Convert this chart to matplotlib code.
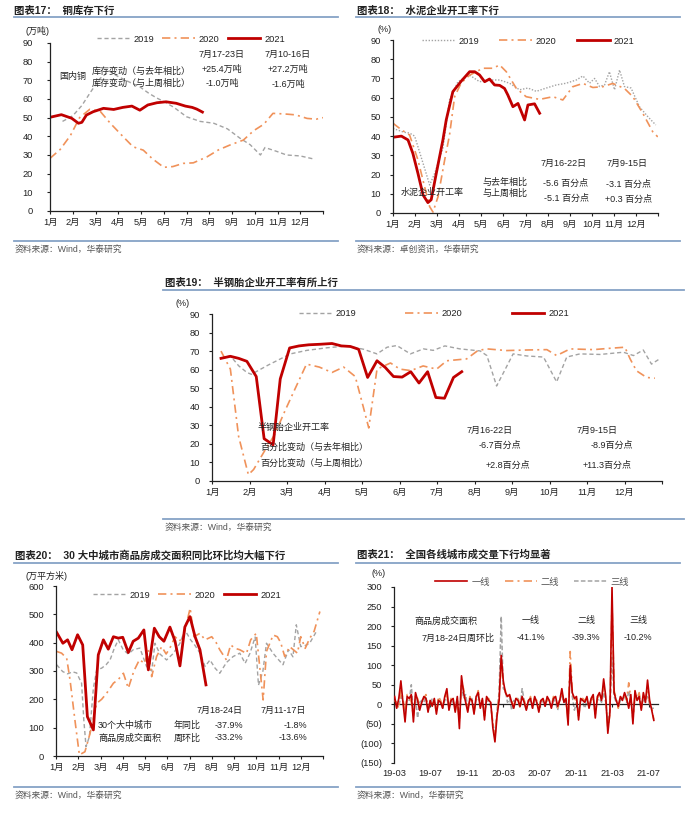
import numpy as np
import pandas as pd
import matplotlib
matplotlib.use("Agg")
import matplotlib.pyplot as plt
from matplotlib.lines import Line2D
import matplotlib.dates as mdates
from matplotlib.ticker import FuncFormatter

plt.rcParams['font.family'] = ['Liberation Sans', 'Noto Sans CJK SC']
plt.rcParams['axes.unicode_minus'] = False

W, H = 692, 814
RED = '#c00000'
ORANGE = '#f0925a'
GREY = '#a3a3a3'
TXT = '#222222'
RULE = '#86a3c6'
MONTHS = [f'{i}月' for i in range(1, 13)]

# ---- 图表17 铜库存 (万吨), x = 月份位置
cu19_m = [0.55, 1.0, 1.4, 1.8, 2.2, 2.6, 3.0, 3.5, 3.95, 4.35, 4.7, 5.1, 5.45, 6.0, 6.6, 7.2,
          7.8, 8.35, 8.8, 9.25, 9.45, 9.95, 10.4, 11.0, 11.65]
cu19_v = [48, 51, 56.5, 64, 71, 75, 72, 69, 66.5, 63, 60.5, 58, 55.5, 50.5, 48, 47,
          44, 39, 35.5, 30, 34, 32, 30, 29.5, 27.7]
cu20_m = [0, 0.45, 0.9, 1.3, 1.75, 2.2, 2.65, 3.2, 3.65, 4.1, 4.5, 5.0, 5.4, 5.85, 6.3, 6.9,
          7.4, 7.9, 8.5, 8.95, 9.4, 9.8, 10.3, 10.8, 11.3, 11.7, 12.0]
cu20_v = [28.2, 33, 40.5, 50, 54.5, 53.5, 47, 40, 34.4, 32.6, 28, 23.4, 23.8, 25.5, 25.8, 29,
          32.7, 35.3, 38, 43, 46.5, 52.3, 52, 51.5, 49.6, 49.2, 50]
cu21_m = [0, 0.5, 0.95, 1.25, 1.4, 1.6, 1.9, 2.35, 2.8, 3.2, 3.6, 3.95, 4.3, 4.7, 5.1, 5.55,
          5.95, 6.25, 6.45, 6.7]
cu21_v = [50.2, 51.6, 49.7, 47, 47.5, 51.4, 53.2, 55, 54.4, 55.5, 56.2, 54, 56.8, 58, 58.5, 57.7,
          56.2, 55.5, 54.6, 53]

# ---- 图表18 水泥企业开工率 (%)
cem19_m = [0, 0.5, 0.75, 0.98, 1.36, 1.66, 1.89, 2.26, 2.56, 2.94, 3.47, 3.92, 4.37, 4.83, 5.28,
           5.73, 6.11, 6.49, 6.94, 7.39, 7.84, 8.3, 8.6, 8.9, 9.13, 9.35, 9.58, 9.8, 10.03,
           10.26, 10.48, 10.78, 11.16, 11.54, 11.9]
cem19_v = [44, 42, 41.6, 40, 25.9, 14.6, 20.7, 33.7, 58.8, 68.3, 71.7, 68.3, 69.2, 69.2, 67.5,
           64.1, 65, 63.3, 65, 66.6, 67.5, 69.2, 71.3, 67.5, 70, 65.8, 66.6, 73.5, 64.1,
           74.4, 65.8, 65, 55.3, 50.1, 45.8]
cem20_m = [0, 0.38, 0.75, 1.13, 1.43, 1.66, 1.81, 2.04, 2.34, 2.56, 2.79, 3.09, 3.47, 4.07, 4.52,
           4.83, 5.13, 5.58, 6.03, 6.64, 7.24, 7.69, 8.14, 8.6, 9.05, 9.5, 9.95, 10.48, 10.86,
           11.31, 11.76, 11.99]
cem20_v = [46.7, 43.3, 40.6, 27.6, 13.7, 3.3, 0.5, 8.5, 27.6, 40.6, 60.5, 67.7, 71.7, 75.3, 75.3,
           77, 73.5, 64.9, 60.5, 59.1, 60.5, 58.8, 65.7, 67.4, 65.3, 65.7, 67.4, 64.8, 60.5,
           51.9, 42.3, 39.6]
cem21_m = [0, 0.38, 0.68, 0.9, 1.13, 1.36, 1.58, 1.73, 1.96, 2.26, 2.41, 2.71, 3.09, 3.47, 3.7,
           3.92, 4.15, 4.37, 4.6, 4.83, 5.05, 5.2, 5.43, 5.66, 5.96, 6.11, 6.41, 6.64]
cem21_v = [39.4, 40, 38, 31, 20.6, 9.4, 5.4, 6.9, 20.6, 38, 48.4, 63.1, 68.6, 73.5, 73.5,
           71.8, 68.3, 69.7, 66.6, 66.4, 64.8, 61.4, 55.3, 57, 48.4, 56.2, 56.8, 51.9]

# ---- 图表19 半钢胎企业开工率 (%)
tire19_m = [0.24, 0.49, 0.71, 0.93, 1.05, 1.5, 2.09, 2.53, 3.07, 3.6, 4.04, 4.4, 4.67, 4.93, 5.29,
            5.64, 5.9, 6.21, 6.61, 7.15, 7.33, 7.59, 8.03, 8.39, 8.84, 9.19, 9.46, 9.81, 10.35,
            10.97, 11.24, 11.5, 11.72, 11.95]
tire19_v = [66, 67.5, 62.1, 58.5, 57.5, 62.5, 68.5, 70.4, 71.8, 72.8, 71, 68.5, 72.1, 73, 68.5,
            71.2, 70.4, 72.8, 71.2, 70.1, 67.6, 51.2, 68.5, 67.4, 66.8, 53.4, 66.8, 68.5, 68.2,
            69.4, 67.6, 70.6, 63, 66]
tire20_m = [0.24, 0.49, 0.71, 0.97, 1.11, 1.39, 1.67, 1.95, 2.17, 2.52, 2.86, 3.2, 3.51, 3.82,
            4.04, 4.18, 4.4, 4.76, 5.01, 5.3, 5.63, 5.99, 6.26, 6.79, 7.09, 7.33, 7.86, 8.39,
            8.93, 9.19, 9.55, 10.17, 10.6, 11.01, 11.15, 11.32, 11.59, 11.81]
tire20_v = [70, 60.3, 24, 3.4, 6.2, 15.8, 25, 38, 47.7, 63, 61.4, 58.5, 61.4, 56.3,
            39.5, 28.6, 60.3, 63.6, 60.3, 59.5, 62, 60.3, 64.8, 65.8, 70.3, 71.2, 70.3, 70.6,
            70.8, 67.6, 71.2, 70.8, 71.5, 72.1, 65.8, 59.4, 55.8, 55.4]
tire21_m = [0.24, 0.49, 0.71, 0.93, 1.18, 1.39, 1.63, 1.82, 2.07, 2.32, 2.58, 2.89, 3.2, 3.45,
            3.69, 3.91, 4.15, 4.4, 4.62, 4.84, 5.07, 5.3, 5.52, 5.75, 5.97, 6.2, 6.44, 6.66]
tire21_v = [66.1, 67.2, 66.1, 64.5, 56.3, 22.8, 19.5, 55, 71.7, 72.8, 73.4, 73.7, 74.1, 72.8,
            72.5, 71, 55.8, 64.8, 61.2, 56.3, 56, 58.9, 52.8, 58.9, 45, 44.6, 55.8, 58.9]

# ---- 图表20 30大中城市商品房成交面积 (万平方米)
house19_m = [0.03, 0.3, 0.52, 0.75, 0.93, 1.15, 1.25, 1.35, 1.5, 1.68, 1.83, 2.05, 2.25, 2.43,
             2.62, 2.8, 3.02, 3.25, 3.47, 3.77, 4.07, 4.3, 4.45, 4.67, 4.97, 5.27, 5.57, 5.79,
             6.05, 6.25, 6.47, 6.7, 6.92, 7.15, 7.36, 7.66, 7.96, 8.26, 8.5, 8.72, 8.95, 9.1,
             9.3, 9.46, 9.76, 10.0, 10.2, 10.45, 10.65, 10.8, 11.0, 11.2, 11.4, 11.7]
house19_v = [322, 298, 290, 297, 293, 257, 127, 33, 68, 240, 304, 310, 322, 339,
             380, 410, 375, 360, 375, 381, 316, 300, 398, 360, 339, 362, 398, 445,
             410, 390, 363, 316, 339, 310, 292, 330, 351, 363, 327, 363, 420, 250,
             300, 398, 362, 340, 322, 375, 350, 463, 386, 390, 398, 439]
house20_m = [0.03, 0.25, 0.48, 0.63, 0.85, 1.05, 1.3, 1.53, 1.83, 2.05, 2.28, 2.58, 2.8, 3.03,
             3.25, 3.5, 3.75, 3.98, 4.15, 4.3, 4.52, 4.75, 4.95, 5.12, 5.35, 5.55, 5.75, 6.03,
             6.2, 6.47, 6.7, 7.0, 7.2, 7.36, 7.66, 7.85, 8.05, 8.26, 8.56, 8.75, 9.0, 9.15,
             9.31, 9.46, 9.76, 9.95, 10.1, 10.28, 10.5, 10.85, 11.0, 11.2, 11.4, 11.6, 11.86]
house20_v = [369, 363, 345, 269, 127, 4, 15, 80, 186, 200, 222, 257, 270, 292,
             239, 300, 340, 327, 375, 280, 351, 386, 360, 381, 421, 405, 430, 522,
             421, 433, 410, 421, 400, 375, 339, 392, 380, 375, 362, 410, 433, 320,
             198, 369, 427, 421, 400, 351, 386, 363, 421, 380, 415, 440, 510]
house21_m = [0.03, 0.31, 0.52, 0.72, 0.97, 1.2, 1.41, 1.68, 1.9, 2.13, 2.35, 2.58, 2.8, 3.0,
             3.25, 3.47, 3.7, 3.95, 4.15, 4.42, 4.64, 4.85, 5.12, 5.35, 5.57, 5.79, 6.02, 6.25,
             6.47, 6.74]
house21_v = [436, 398, 410, 375, 428, 392, 139, 92, 357, 410, 377, 421, 416, 419,
             365, 405, 416, 445, 304, 451, 421, 405, 455, 405, 318, 455, 492, 421,
             375, 251]

# ---- 图表21 各线城市成交面积周环比 (%), 周度, 自2019-03-03起
tier1 = [20, -10, 15, 60, 5, -45, 20, 15, 25, -45, 30, 10, -15, 5, 20, 15, -20, 10, -5, 15,
         -25, 10, 5, -10, 20, 40, -15, 10, 15, -20, 20, -62, 73, 30, 5, -20, 15, 10, -25, 20,
         30, -10, 15, -40, 20, 10, 5, -60, -96, -30, 10, 125, 60, 30, 20, 25, 5, -10, 15, 10,
         -5, 20, 5, -15, 10, 15, -10, 20, 5, -20, 10, 15, -5, 20, 10, -10, 15, 20, -5, 10,
         40, 5, 15, -53, 100, 30, 15, 20, -40, 15, 10, 5, 20, -10, 15, 25, -35, 20, 30, 10,
         65, 20, -74, -20, 300, 30, 10, -5, 20, 10, 30, 15, -10, 25, -50, 35, 10, 20, -15, 30,
         5, 62, 10, -15, -41]
tier2 = [10, 5, -10, 35, 15, -25, 25, 20, 5, -30, 20, 15, -5, 10, 15, 25, -10, 5, 10, 0,
         -15, 20, 10, -5, 15, 25, -10, 15, 10, -15, 10, -45, 55, 40, 10, -15, 20, 5, -20, 15,
         35, -5, 10, -30, 15, 15, 0, -50, -85, -20, 20, 110, 45, 35, 15, 20, 10, -5, 10, 20,
         -10, 15, 10, -10, 5, 20, -5, 15, 10, -15, 15, 10, 0, 15, 5, -5, 20, 15, -10, 15,
         30, 10, 10, -45, 135, 35, 10, 15, -30, 10, 15, 10, 15, -5, 10, 20, -25, 15, 25, 15,
         45, 15, -65, -25, 260, 35, 15, -10, 15, 20, 25, 10, 55, 15, -40, 25, 15, 30, -10, 20,
         10, 40, 5, -10, -39]
tier3 = [5, 0, -5, 20, 10, -20, 15, 10, 50, -25, 15, -35, 5, 10, 5, 20, -15, 0, 15, 5,
         -10, 15, 5, -10, 10, 15, -5, 10, 5, -10, 15, -40, 50, 15, 25, -10, 10, 15, -15, 10,
         20, 0, 5, -25, 10, 5, -5, -45, -85, -15, 30, 225, 40, 35, 5, 15, -15, 10, 5, 15,
         -10, 40, 10, -15, 5, 10, -10, 10, 5, -10, 10, 5, -5, 10, 10, -10, 15, 5, -15, 10,
         20, 5, 5, -30, 90, 20, -15, 5, -20, 10, 5, -10, 10, -5, 5, 15, -15, 10, 15, 5,
         30, 5, -50, -15, 120, 20, 5, -5, 10, 15, 20, 5, 35, 10, -30, 20, 10, 25, -5, 15,
         5, 20, 0, -10, -10]

fig = plt.figure(figsize=(W / 100, H / 100), dpi=100)


def add_ax(l, t, r, b):
    return fig.add_axes([l / W, 1 - b / H, (r - l) / W, (b - t) / H])


def txt(x, y, s, ha='left', size=6.5, color=TXT, **kw):
    fig.text(x / W, 1 - y / H, s, ha=ha, va='center', fontsize=size, color=color, **kw)


def rule(x0, x1, y):
    fig.add_artist(Line2D([x0 / W, x1 / W], [1 - y / H] * 2, color=RULE, lw=1.3,
                          transform=fig.transFigure))


def legend(handles, labels, cx, cy, colsp, color=TXT):
    leg = fig.legend(handles, labels, loc='center', bbox_to_anchor=(cx / W, 1 - cy / H),
                     ncol=3, frameon=False, fontsize=6.7, handlelength=3.5, handletextpad=0.4,
                     columnspacing=colsp, borderpad=0, borderaxespad=0)
    for t in leg.get_texts():
        t.set_color(color)


def style(ax, ypad=6):
    for s in ['top', 'right']:
        ax.spines[s].set_visible(False)
    for s in ['left', 'bottom']:
        ax.spines[s].set_linewidth(0.9)
        ax.spines[s].set_color('#222222')
    ax.tick_params(axis='both', labelsize=6.7, length=2.5, width=0.8, colors='#222222',
                   direction='out')
    ax.tick_params(axis='y', pad=ypad)
    ax.tick_params(axis='x', pad=2.5)


def month_axis(ax, ymax, ystep, ypad=6):
    ax.set_xlim(0, 12)
    ax.set_xticks(range(13))
    ax.set_xticklabels(MONTHS + [''])
    ax.set_ylim(0, ymax)
    ax.set_yticks(np.arange(0, ymax + 1, ystep))
    style(ax, ypad)


def three_years(ax, m19, v19, m20, v20, m21, v21, dotted19=False):
    ls19 = (0, (1, 1.2)) if dotted19 else (0, (3, 2))
    h19, = ax.plot(m19, v19, color=GREY, lw=1.0, ls=ls19)
    h20, = ax.plot(m20, v20, color=ORANGE, lw=1.2, ls=(0, (5, 2.5, 1.2, 2.5)))
    h21, = ax.plot(m21, v21, color=RED, lw=2.0)
    return [h19, h20, h21]


YEARS = ['2019', '2020', '2021']

# ================= 图表17
ax17 = add_ax(50, 43, 323, 211)
hs = three_years(ax17, cu19_m, cu19_v, cu20_m, cu20_v, cu21_m, cu21_v)
month_axis(ax17, 90, 10, ypad=10)
legend(hs, YEARS, 191, 39, 0.9)
txt(14, 11, '图表17：  铜库存下行', size=7.5, weight='bold')
rule(14, 338, 17)
txt(25, 31, '(万吨)')
txt(59, 77, '国内铜')
txt(92, 71, '库存变动（与去年相比）')
txt(92, 83, '库存变动（与上周相比）')
txt(222, 54, '7月17-23日', ha='center')
txt(222, 69, '+25.4万吨', ha='center')
txt(222, 83, '-1.0万吨', ha='center')
txt(288, 54, '7月10-16日', ha='center')
txt(288, 69, '+27.2万吨', ha='center')
txt(288, 84, '-1.6万吨', ha='center')
rule(14, 338, 241)
txt(15, 249, '资料来源：Wind，华泰研究', size=6.3, color='#555555')

# ================= 图表18
ax18 = add_ax(393, 40, 658, 213)
hs = three_years(ax18, cem19_m, cem19_v, cem20_m, cem20_v, cem21_m, cem21_v, dotted19=True)
month_axis(ax18, 90, 10)
legend(hs, YEARS, 528, 41, 2.2)
txt(357, 11, '图表18：  水泥企业开工率下行', size=7.5, weight='bold')
rule(356, 680, 17)
txt(377, 29, '(%)')
txt(401, 192, '水泥企业开工率')
txt(505, 182, '与去年相比', ha='center')
txt(505, 193, '与上周相比', ha='center')
txt(564, 163, '7月16-22日', ha='center')
txt(627, 163, '7月9-15日', ha='center')
txt(566, 183, '-5.6 百分点', ha='center')
txt(566, 198, '-5.1 百分点', ha='center')
txt(628, 184, '-3.1 百分点', ha='center')
txt(629, 199, '+0.3 百分点', ha='center')
rule(356, 680, 241)
txt(357, 249, '资料来源：卓创资讯，华泰研究', size=6.3, color='#555555')

# ================= 图表19
ax19 = add_ax(212, 314, 662, 481)
hs = three_years(ax19, tire19_m, tire19_v, tire20_m, tire20_v, tire21_m, tire21_v)
month_axis(ax19, 90, 10)
legend(hs, YEARS, 434, 314, 5.3)
txt(165, 283, '图表19：  半钢胎企业开工率有所上行', size=7.5, weight='bold')
rule(163, 684, 290)
txt(175, 303, '(%)')
txt(257, 427, '半钢胎企业开工率')
txt(260, 447, '百分比变动（与去年相比）')
txt(260, 463, '百分比变动（与上周相比）')
txt(490, 430, '7月16-22日', ha='center')
txt(597, 430, '7月9-15日', ha='center')
txt(500, 445, '-6.7百分点', ha='center')
txt(508, 465, '+2.8百分点', ha='center')
txt(612, 445, '-8.9百分点', ha='center')
txt(607, 465, '+11.3百分点', ha='center')
rule(163, 684, 519)
txt(165, 527, '资料来源：Wind，华泰研究', size=6.3, color='#555555')

# ================= 图表20
ax20 = add_ax(56, 586, 323, 756)
hs = three_years(ax20, house19_m, house19_v, house20_m, house20_v, house21_m, house21_v)
month_axis(ax20, 600, 100)
legend(hs, YEARS, 187, 595, 0.9)
txt(15, 555, '图表20：  30 大中城市商品房成交面积同比环比均大幅下行', size=7.5, weight='bold')
rule(14, 338, 563)
txt(25, 576, '(万平方米)')
txt(220, 710, '7月18-24日', ha='center')
txt(283, 710, '7月11-17日', ha='center')
txt(98, 725, '30个大中城市')
txt(98, 738, '商品房成交面积')
txt(187, 725, '年同比', ha='center')
txt(187, 738, '周环比', ha='center')
txt(229, 725, '-37.9%', ha='center')
txt(229, 738, '-33.2%', ha='center')
txt(307, 725, '-1.8%', ha='right')
txt(307, 738, '-13.6%', ha='right')
rule(14, 338, 787)
txt(15, 795, '资料来源：Wind，华泰研究', size=6.3, color='#555555')

# ================= 图表21
ax21 = add_ax(394, 587, 658, 763)
d3 = pd.date_range('2019-03-03', periods=len(tier3), freq='7D')
d2 = pd.date_range('2019-03-03', periods=len(tier2), freq='7D')
d1 = pd.date_range('2019-03-03', periods=len(tier1), freq='7D')
h3, = ax21.plot(d3, tier3, color=GREY, lw=1.1, ls=(0, (3, 1.5)), zorder=2)
h2, = ax21.plot(d2, tier2, color=ORANGE, lw=1.2, ls=(0, (5, 2.5, 1.2, 2.5)), zorder=3)
h1, = ax21.plot(d1, tier1, color=RED, lw=1.2, zorder=4)
ax21.set_xlim(pd.Timestamp('2019-03-01'), pd.Timestamp('2021-08-01'))
ax21.set_ylim(-150, 300)
ax21.set_yticks(np.arange(-150, 301, 50))
ax21.yaxis.set_major_formatter(FuncFormatter(lambda v, p: f'({int(-v)})' if v < 0 else f'{int(v)}'))
ax21.set_xticks(pd.date_range('2019-03-01', '2021-07-01', freq='4MS'))
ax21.xaxis.set_major_formatter(mdates.DateFormatter('%y-%m'))
style(ax21)
ax21.spines['bottom'].set_position(('data', 0))
ax21.tick_params(axis='x', pad=44)
legend([h1, h2, h3], ['一线', '二线', '三线'], 532, 582, 1.6, color='#555555')
txt(357, 555, '图表21：  全国各线城市成交量下行均显著', size=7.5, weight='bold')
rule(356, 680, 563)
txt(371, 574, '(%)')
txt(446, 621, '商品房成交面积', ha='center')
txt(458, 638, '7月18-24日周环比', ha='center')
txt(531, 621, '一线', ha='center')
txt(531, 638, '-41.1%', ha='center')
txt(586, 621, '二线', ha='center')
txt(586, 638, '-39.3%', ha='center')
txt(638, 621, '三线', ha='center')
txt(638, 638, '-10.2%', ha='center')
rule(356, 680, 787)
txt(357, 795, '资料来源：Wind，华泰研究', size=6.3, color='#555555')

fig.savefig('out.png', dpi=100)
